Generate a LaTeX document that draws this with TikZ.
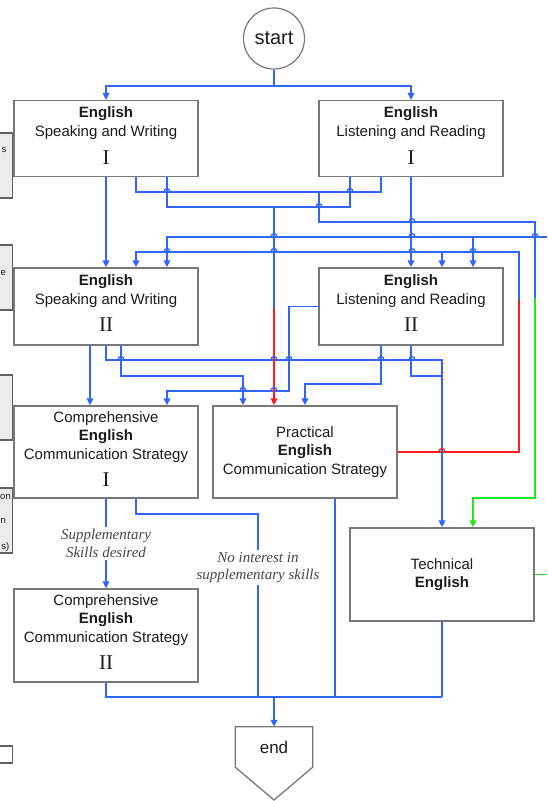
\documentclass[tikz,border=0pt]{standalone}
\usepackage{fontspec}
\setmainfont{Liberation Sans}
\newfontfamily\serifnum{Liberation Serif}
\usetikzlibrary{arrows.meta,calc}

\definecolor{flowblue}{RGB}{50,102,250}
\definecolor{flowred}{RGB}{250,30,30}
\definecolor{flowgreen}{RGB}{34,228,34}
\definecolor{edgegray}{RGB}{120,120,120}
\definecolor{inkgray}{RGB}{28,28,28}
\definecolor{notegray}{RGB}{70,70,70}

\tikzset{
  flow/.style={line width=1.9pt, draw=flowblue},
  redflow/.style={line width=1.9pt, draw=flowred},
  greenflow/.style={line width=1.9pt, draw=flowgreen},
  tip/.style={-{Triangle[length=7pt,width=6.5pt]}},
  stagebox/.style={draw=edgegray, line width=1.3pt, fill=white, minimum width=184pt, inner sep=0pt},
  txt/.style={font=\fontsize{15}{18}\selectfont, text=inkgray, inner sep=0pt, anchor=base},
  numeral/.style={font=\serifnum\fontsize{21}{24}\selectfont, text=inkgray, inner sep=0pt, anchor=base},
  note/.style={font=\serifnum\itshape\fontsize{15}{17.5}\selectfont, text=notegray, align=center, fill=white, inner sep=2pt},
  sidebox/.style={draw=gray!75!black, line width=1.3pt, fill=gray!16},
  sidetxt/.style={font=\fontsize{9.5}{11}\selectfont, text=inkgray, inner sep=0pt, anchor=base east},
  hopline/.style={line width=1.4pt},
}

% one text line inside a box, placed by its baseline below the box top
\newcommand{\stageline}[5][txt]{\node[#1] (#2) at ($(#3.north)+(0,#4)$) {#5};}
% small jump drawn where a horizontal line passes over a crossing
\newcommand{\linehop}[2][flowblue]{\draw[hopline, draw=#1] ($(#2)+(-3,0)$) .. controls ($(#2)+(-3,-4.5)$) and ($(#2)+(3,-4.5)$) .. ($(#2)+(3,0)$);}

\begin{document}
\begin{tikzpicture}[x=1pt,y=-1pt]
\useasboundingbox (0,0) rectangle (547,801);
\fill[white] (0,0) rectangle (547,801);

% side panels cut by the left border
\draw[sidebox] (-10,133) rectangle (12.3,198);
\draw[sidebox] (-10,245) rectangle (12.3,310);
\draw[sidebox] (-10,375) rectangle (12.3,440);
\draw[sidebox] (-10,488) rectangle (12.3,553);
\draw[draw=gray!75!black, line width=1.3pt, fill=white] (-10,746) rectangle (12.3,763);
\node[sidetxt] (sa) at (6.5,152) {s};
\node[sidetxt] (sb) at (6,275) {e};
\node[sidetxt] (sc) at (11,499) {on};
\node[sidetxt] (sd) at (6,523) {n};
\node[sidetxt] (se) at (9.5,549) {s)};

% terminals
\node[circle, draw=edgegray, line width=1.2pt, fill=white, minimum size=61pt, inner sep=0pt,
      font=\fontsize{20}{24}\selectfont, text=inkgray] (start) at (274,38.5) {start};
\node[minimum width=77pt, minimum height=40pt, inner sep=0pt,
      font=\fontsize{17}{20}\selectfont, text=inkgray] (endbox) at (274,747) {end};
\draw[draw=edgegray, line width=1.3pt] (endbox.north west) -- (endbox.north east)
  -- (endbox.south east) -- (274,800) -- (endbox.south west) -- cycle;

% course boxes
\node[stagebox, minimum height=76pt] (sw1) at (106,138.6) {};
\node[stagebox, minimum height=76pt] (lr1) at (411,138.6) {};
\node[stagebox, minimum height=77pt] (sw2) at (106,306.5) {};
\node[stagebox, minimum height=77pt] (lr2) at (411,306.5) {};
\node[stagebox, minimum height=92pt] (ces1) at (106,452) {};
\node[stagebox, minimum height=92pt] (prac) at (305,452) {};
\node[stagebox, minimum height=93pt] (tech) at (442,574.5) {};
\node[stagebox, minimum height=93pt] (ces2) at (106,635.5) {};

\stageline{sw1a}{sw1}{18}{\textbf{English}}
\stageline{sw1b}{sw1}{37}{Speaking and Writing}
\stageline[numeral]{sw1c}{sw1}{64.5}{I}
\stageline{lr1a}{lr1}{18}{\textbf{English}}
\stageline{lr1b}{lr1}{37}{Listening and Reading}
\stageline[numeral]{lr1c}{lr1}{64.5}{I}
\stageline{sw2a}{sw2}{18.5}{\textbf{English}}
\stageline{sw2b}{sw2}{37}{Speaking and Writing}
\stageline[numeral]{sw2c}{sw2}{64.5}{II}
\stageline{lr2a}{lr2}{18.5}{\textbf{English}}
\stageline{lr2b}{lr2}{37}{Listening and Reading}
\stageline[numeral]{lr2c}{lr2}{64.5}{II}
\stageline{ces1a}{ces1}{17.5}{Comprehensive}
\stageline{ces1b}{ces1}{35.5}{\textbf{English}}
\stageline{ces1c}{ces1}{54}{Communication Strategy}
\stageline[numeral]{ces1d}{ces1}{81.5}{I}
\stageline{praca}{prac}{32.5}{Practical}
\stageline{pracb}{prac}{50.5}{\textbf{English}}
\stageline{pracc}{prac}{69.5}{Communication Strategy}
\stageline{techa}{tech}{42.5}{Technical}
\stageline{techb}{tech}{60.5}{\textbf{English}}
\stageline{ces2a}{ces2}{17.5}{Comprehensive}
\stageline{ces2b}{ces2}{35.5}{\textbf{English}}
\stageline{ces2c}{ces2}{54}{Communication Strategy}
\stageline[numeral]{ces2d}{ces2}{81.5}{II}

\coordinate (edgeA) at (547,237);
\coordinate (edgeB) at (547,574.5);

% start to the first level
\draw[flow,tip] (start.south) -- ++(0,16) -| (sw1.north);
\draw[flow,tip] (start.south) -- ++(0,16) -| (lr1.north);
\draw[flow,tip] (sw1.south) -- (sw2.north);
\draw[flow,tip] (lr1.south) -- (lr2.north);

% first level to Technical English
\draw[flow] (136,0 |- sw1.south) |- (381,192) -- (381,0 |- lr1.south);
\draw[flow] (319,192) |- (535,222) -- (535,298);
\draw[greenflow,tip] (535,298) -- (535,498) -| (473,0 |- tech.north);

% first level to Practical English
\draw[flow] (167,0 |- sw1.south) |- (350,207) -- (350,0 |- lr1.south);
\draw[flow] (274,207) -- (274,308);

% feed from the right into the second level
\draw[flow,tip] (edgeA) -| (167,0 |- sw2.north);
\draw[flow,tip] (473,237) -- (473,0 |- lr2.north);

% Practical English back to the second level
\draw[redflow] (prac.east) -| (519,300);
\draw[flow,tip] (519,300) |- (136,252) -- (136,0 |- sw2.north);
\draw[flow,tip] (442,252) -- (442,0 |- lr2.north);

% second level onwards
\draw[flow,tip] (90,0 |- sw2.south) -- (90,0 |- ces1.north);
\draw[flow,tip] (sw2.south) |- (442,360) -- (442,0 |- tech.north);
\draw[flow,tip] (121,0 |- sw2.south) |- (243,376) -- (243,0 |- prac.north);
\draw[flow,tip] (lr2.west) -| (289,391) -| (167,0 |- ces1.north);
\draw[flow,tip] (381,0 |- lr2.south) |- (305,384) -- (prac.north);
\draw[flow] (lr2.south) |- (442,376);
\draw[redflow,tip] (274,308) -- (274,0 |- prac.north);

% towards the end
\draw[flow,tip] (ces1.south) -- (ces2.north)
  node[note, pos=0.5] (want) {Supplementary\\Skills desired};
\draw[flow] (136,0 |- ces1.south) |- (258,514) -- (258,697)
  node[note, pos=0.293] (skip) {No interest in\\supplementary skills};
\draw[flow] (335,0 |- prac.south) -- (335,697);
\draw[flow] (tech.south) -- (442,697);
\draw[flow] (ces2.south) |- (442,697);
\draw[flow,tip] (274,697) -- (endbox.north);
\draw[greenflow] (tech.east) -- (edgeB);

% jumps at crossings
\foreach \p in {{167,192},{350,192},{319,207},{412,222},{274,237},{412,237},{535,237},
  {167,252},{274,252},{412,252},{473,252},{121,360},{274,360},{289,360},{381,360},{412,360},
  {243,391},{274,391}}
  {\linehop{\p}}
\linehop[flowred]{442,452}
\end{tikzpicture}
\end{document}
